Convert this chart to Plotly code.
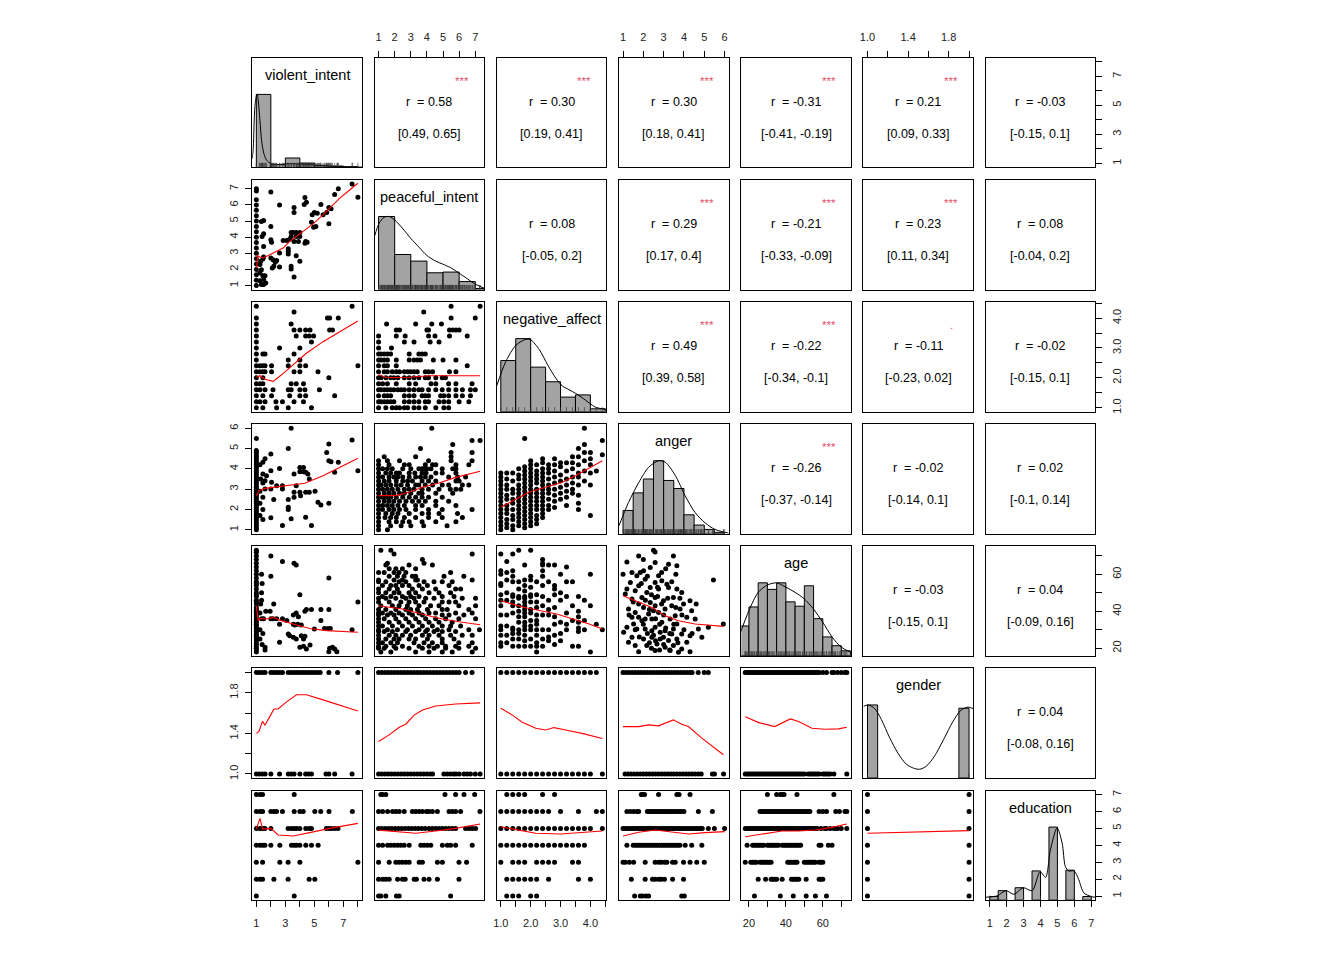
import plotly.graph_objects as go

FONT = "Liberation Sans, Arial, Helvetica, sans-serif"

variables = ["violent_intent", "peaceful_intent", "negative_affect", "anger", "age", "gender", "education"]
var_min = [1, 1, 1, 1, 18, 1, 1]
var_max = [8, 7.3, 4.4, 6, 73, 2, 7]

tick_vals = [
    [1, 2, 3, 4, 5, 6, 7, 8],
    [1, 2, 3, 4, 5, 6, 7],
    [1.0, 1.5, 2.0, 2.5, 3.0, 3.5, 4.0, 4.5],
    [1, 2, 3, 4, 5, 6],
    [20, 30, 40, 50, 60, 70],
    [1.0, 1.2, 1.4, 1.6, 1.8, 2.0],
    [1, 2, 3, 4, 5, 6, 7],
]
tick_text = [
    ["1", "", "3", "", "5", "", "7", ""],
    ["1", "2", "3", "4", "5", "6", "7"],
    ["1.0", "", "2.0", "", "3.0", "", "4.0", ""],
    ["1", "2", "3", "4", "5", "6"],
    ["20", "", "40", "", "60", ""],
    ["1.0", "", "1.4", "", "1.8", ""],
    ["1", "2", "3", "4", "5", "6", "7"],
]

# ---------------- upper panels: correlations ----------------
upper_r = {(1, 2): "0.58", (1, 3): "0.30", (1, 4): "0.30", (1, 5): "-0.31", (1, 6): "0.21", (1, 7): "-0.03",
           (2, 3): "0.08", (2, 4): "0.29", (2, 5): "-0.21", (2, 6): "0.23", (2, 7): "0.08",
           (3, 4): "0.49", (3, 5): "-0.22", (3, 6): "-0.11", (3, 7): "-0.02",
           (4, 5): "-0.26", (4, 6): "-0.02", (4, 7): "0.02",
           (5, 6): "-0.03", (5, 7): "0.04",
           (6, 7): "0.04"}
upper_ci = {(1, 2): "[0.49, 0.65]", (1, 3): "[0.19, 0.41]", (1, 4): "[0.18, 0.41]", (1, 5): "[-0.41, -0.19]",
            (1, 6): "[0.09, 0.33]", (1, 7): "[-0.15, 0.1]",
            (2, 3): "[-0.05, 0.2]", (2, 4): "[0.17, 0.4]", (2, 5): "[-0.33, -0.09]", (2, 6): "[0.11, 0.34]",
            (2, 7): "[-0.04, 0.2]",
            (3, 4): "[0.39, 0.58]", (3, 5): "[-0.34, -0.1]", (3, 6): "[-0.23, 0.02]", (3, 7): "[-0.15, 0.1]",
            (4, 5): "[-0.37, -0.14]", (4, 6): "[-0.14, 0.1]", (4, 7): "[-0.1, 0.14]",
            (5, 6): "[-0.15, 0.1]", (5, 7): "[-0.09, 0.16]",
            (6, 7): "[-0.08, 0.16]"}
upper_stars = {(1, 2): "***", (1, 3): "***", (1, 4): "***", (1, 5): "***", (1, 6): "***",
               (2, 4): "***", (2, 5): "***", (2, 6): "***",
               (3, 4): "***", (3, 5): "***", (3, 6): ".",
               (4, 5): "***"}

# ---------------- diagonal: histograms (normalised to max 1) and densities ----------------
hist_breaks = [
    [1, 2, 3, 4, 5, 6, 7, 8],
    [1, 2, 3, 4, 5, 6, 7, 8],
    [1.0, 1.5, 2.0, 2.5, 3.0, 3.5, 4.0, 4.5],
    [1.0, 1.5, 2.0, 2.5, 3.0, 3.5, 4.0, 4.5, 5.0, 5.5, 6.0],
    [15, 20, 25, 30, 35, 40, 45, 50, 55, 60, 65, 70, 75],
    [1.0, 1.1, 1.2, 1.3, 1.4, 1.5, 1.6, 1.7, 1.8, 1.9, 2.0],
    [1.0, 1.5, 2.0, 2.5, 3.0, 3.5, 4.0, 4.5, 5.0, 5.5, 6.0, 6.5, 7.0],
]
hist_heights = [
    [1.0, 0.04, 0.13, 0.06, 0.03, 0.02, 0.01],
    [1.0, 0.48, 0.39, 0.23, 0.24, 0.11, 0.015],
    [0.70, 1.0, 0.61, 0.41, 0.20, 0.23, 0.04],
    [0.32, 0.56, 0.75, 1.0, 0.73, 0.62, 0.26, 0.12, 0.06, 0.02],
    [0.41, 0.67, 1.0, 0.91, 1.0, 0.74, 0.68, 0.96, 0.51, 0.26, 0.14, 0.07],
    [1.0, 0, 0, 0, 0, 0, 0, 0, 0, 0.955],
    [0.05, 0.13, 0, 0.17, 0, 0.40, 0, 1.0, 0, 0.41, 0, 0.05],
]
dens_x = [
    [0.72, 0.79, 0.9, 1.02, 1.06, 1.13, 1.25, 1.36, 1.52, 1.71, 2.05, 2.62, 3.0, 3.54, 4.2, 4.68, 5.83, 6.97, 8.28],
    [0.75, 1.04, 1.35, 1.66, 2.01, 2.48, 3.0, 3.51, 3.98, 4.54, 4.97, 5.47, 5.96, 6.5, 6.95, 7.55],
    [0.86, 1.17, 1.51, 1.84, 2.01, 2.29, 2.57, 2.84, 3.07, 3.29, 3.51, 3.73, 3.96, 4.18, 4.54],
    [0.8, 1.27, 1.77, 2.26, 2.75, 3.08, 3.57, 4.06, 4.55, 5.04, 5.53, 6.2],
    [14.8, 20, 25, 30, 35, 40, 45, 50, 55, 60, 65, 70, 75.2],
    [0.96, 1.006, 1.071, 1.137, 1.219, 1.30, 1.382, 1.464, 1.513, 1.578, 1.66, 1.758, 1.84, 1.922, 1.994, 2.04],
    [0.76, 1.45, 1.96, 2.43, 2.98, 3.51, 3.98, 4.30, 4.59, 4.98, 5.28, 5.47, 5.67, 5.99, 6.26, 6.56, 6.99, 7.24],
]
dens_y = [
    [0.12, 0.28, 0.83, 0.99, 1.0, 0.92, 0.64, 0.37, 0.19, 0.10, 0.05, 0.04, 0.05, 0.05, 0.045, 0.04, 0.02, 0.01, 0.005],
    [0.73, 0.91, 0.99, 1.0, 0.95, 0.84, 0.70, 0.58, 0.47, 0.39, 0.35, 0.30, 0.23, 0.15, 0.08, 0.02],
    [0.35, 0.69, 0.91, 0.99, 0.98, 0.85, 0.64, 0.46, 0.35, 0.30, 0.25, 0.19, 0.12, 0.06, 0.03],
    [0.11, 0.43, 0.70, 0.91, 1.0, 0.98, 0.80, 0.52, 0.29, 0.15, 0.06, 0.01],
    [0.28, 0.62, 0.87, 0.97, 1.0, 0.94, 0.87, 0.78, 0.64, 0.46, 0.26, 0.12, 0.05],
    [0.98, 1.0, 0.95, 0.80, 0.55, 0.34, 0.19, 0.13, 0.12, 0.16, 0.30, 0.55, 0.77, 0.93, 0.97, 0.95],
    [0.04, 0.06, 0.13, 0.08, 0.17, 0.13, 0.39, 0.31, 0.69, 0.99, 0.78, 0.46, 0.40, 0.40, 0.28, 0.10, 0.05, 0.04],
]

# ---------------- lower panels: scatter points (x = column variable, y = row variable) ----------------
pts_2_1 = [(1, 1.0), (1, 1.33), (1, 1.67), (1, 2.0), (1, 2.33), (1, 2.67), (1, 3.0), (1, 3.33), (1, 3.67), (1, 4.0),
           (1, 4.33), (1, 4.67), (1, 5.0), (1, 5.33), (1, 5.67), (1, 6.0), (1, 6.33), (1, 6.87), (1, 7.0),
           (2, 6.8), (2.6, 6.0), (3.6, 5.85), (3.6, 5.53), (4.35, 6.46), (4.45, 6.17), (4.3, 6.03), (5.45, 6.03),
           (6.4, 6.65), (6.65, 7.0), (7.6, 7.3), (8, 6.48), (6.15, 5.76), (6, 5.84), (5.85, 5.53), (5.6, 5.39),
           (5.2, 5.49), (5, 5.53), (4.85, 5.39), (4.8, 4.93), (5.1, 4.67), (4.95, 4.62), (6, 4.83), (1.5, 5.04),
           (1.35, 4.97), (2, 4.67), (2, 3.84), (2.05, 3.68), (1.5, 4.21), (1.4, 4.05), (1.5, 3.43), (3.4, 4.29),
           (3.55, 4.29), (3.75, 4.29), (4, 4.29), (3.4, 4.05), (3.75, 4.05), (4, 4.05), (4.4, 3.74), (4.35, 3.63),
           (4.5, 3.68), (3.3, 3.88), (3.1, 3.8), (2.85, 3.8), (3.6, 3.74), (3.9, 3.74), (3.2, 3.28), (3.2, 3.12),
           (3.2, 2.95), (2.6, 3.02), (3.75, 2.85), (4, 2.5), (2, 2.71), (2.15, 2.6), (2.4, 2.56), (2.3, 2.44),
           (2.1, 2.09), (2.2, 2.19), (2.6, 2.15), (3.4, 2.19), (3.4, 2.03), (3.6, 1.53), (1.45, 2.65), (1.5, 2.77),
           (1.35, 1.98), (1.25, 1.78), (1.45, 1.61), (1.5, 1.37), (1.35, 1.06), (1.5, 1.06), (1.65, 1.16),
           (1.6, 1.61), (1.25, 1.3), (1.25, 2.3), (1.3, 2.5)]

lev_3_1 = {4.4: [1.0, 7.6], 4.2: [3.6], 4.0: [1.0, 5.9, 6.05, 6.65], 3.8: [1.0, 3.4],
           3.6: [1.0, 3.6, 4.0, 4.4, 4.7, 6.05, 6.25], 3.4: [1.0, 3.75, 4.4, 4.65, 4.95], 3.2: [1.0, 4.8],
           3.0: [1.0, 2.6, 4.0], 2.8: [1.0, 1.45, 1.6, 3.6], 2.6: [1.0, 3.2, 4.0],
           2.4: [1.0, 1.25, 1.45, 1.6, 2.05, 3.2, 4.0, 4.4, 8.0], 2.2: [1.0, 1.25, 1.45, 1.6, 2.05, 3.6, 4.0, 5.25],
           2.0: [1.0, 1.45, 6.0], 1.8: [1.0, 1.25, 1.45, 3.4, 3.75, 4.25],
           1.6: [1.0, 1.25, 1.6, 2.15, 3.2, 3.4, 4.0, 4.35, 5.35], 1.4: [1.0, 1.45, 2.05, 3.3, 4.0, 4.4, 6.4],
           1.2: [1.0, 1.25, 1.6, 2.35, 2.8, 3.6, 4.25], 1.0: [1.0, 1.45, 2.4, 3.2, 4.8]}

lev_3_2 = {4.4: [5.5, 7.3], 4.2: [3.8], 4.0: [5.5, 7.0], 3.8: [1.5, 3.3, 4.3, 4.9],
           3.6: [2.1, 2.3, 4.0, 4.1, 5.4, 5.6, 5.8, 6.0], 3.4: [1.0, 2.1, 2.65, 4.1, 4.5, 5.4, 6.5],
           3.2: [1.0, 2.6, 3.2, 4.2, 4.75], 3.0: [1.0, 1.8],
           2.8: [1.0, 1.15, 1.35, 1.55, 1.75, 2.9, 3.5, 3.7, 3.9],
           2.6: [1.0, 1.15, 1.35, 1.55, 2.1, 2.9, 3.2, 3.4, 3.6, 4.4, 5.0, 5.8],
           2.4: [1.0, 1.35, 1.55, 2.1, 6.5],
           2.2: [1.0, 1.35, 1.55, 1.85, 2.1, 2.3, 2.6, 2.8, 3.0, 3.2, 3.4, 3.9, 4.1, 4.35, 5.4, 5.8],
           2.0: [1.0, 1.15, 1.45, 1.75, 1.95, 2.2, 2.6, 2.9, 3.2, 3.5, 3.9, 4.1, 4.55, 4.95, 5.15],
           1.8: [1.0, 1.25, 1.55, 2.1, 2.9, 3.3, 4.25, 4.55, 5.35, 5.8, 6.8],
           1.6: [1.0, 1.15, 1.35, 1.55, 1.75, 1.95, 2.2, 2.4, 2.6, 2.9, 3.2, 3.5, 3.7, 4.1, 4.55, 4.95, 5.35,
                 5.8, 6.2, 6.7, 7.0],
           1.4: [1.0, 1.35, 1.55, 1.75, 2.6, 2.9, 3.2, 3.7, 3.9, 4.1, 4.85, 5.05, 5.35, 5.8, 6.2, 6.7],
           1.2: [1.0, 1.15, 1.35, 1.55, 1.75, 1.95, 2.6, 2.9, 3.2, 3.5, 3.9, 4.1, 4.75, 5.05, 5.35, 6.0, 6.6],
           1.0: [1.0, 1.45, 1.85, 2.1, 2.3, 2.6, 2.8, 3.2, 3.5, 3.9, 4.55, 5.05, 5.35]}

pts_4_1 = [(1, 1.0), (1, 1.1), (1, 1.2), (1, 1.3), (1, 1.4), (1, 1.5), (1, 1.6), (1, 1.7), (1, 1.8), (1, 1.9),
           (1, 2.0), (1, 2.1), (1, 2.2), (1, 2.3), (1, 2.4), (1, 2.5), (1, 2.6), (1, 2.7), (1, 2.8), (1, 2.9),
           (1, 3.0), (1, 3.1), (1, 3.2), (1, 3.3), (1, 3.4), (1, 3.5), (1, 3.6), (1, 3.7), (1, 3.8), (1, 3.9),
           (1, 4.0), (1, 4.1), (1, 4.2), (1, 4.3), (1, 4.4), (1, 4.5), (1, 4.6), (1, 4.7), (1, 4.8), (1, 4.9),
           (1, 5.5),
           (3.4, 6.0), (3.2, 5.0), (2.0, 4.73), (2.6, 4.02), (2.0, 3.91), (2.05, 3.34), (2.0, 3.01), (2.2, 2.49),
           (2.0, 1.59), (2.8, 1.21), (3.2, 2.49), (3.2, 2.11), (3.2, 2.0), (3.4, 1.54), (3.6, 3.75), (4.0, 4.07),
           (4.0, 3.86), (4.25, 4.07), (4.25, 3.86), (3.75, 3.17), (3.6, 2.85), (4.0, 2.85), (4.05, 2.68),
           (3.6, 2.6), (4.4, 3.83), (4.55, 3.75), (4.65, 3.5), (4.4, 2.85), (4.65, 2.85), (4.4, 1.62), (4.8, 1.21),
           (5.05, 2.9), (5.25, 2.35), (5.45, 2.22), (6.0, 2.31), (5.85, 4.81), (6.0, 5.22), (6.0, 4.4),
           (6.15, 4.35), (6.65, 4.32), (6.4, 3.83), (7.6, 5.42), (8.0, 3.91), (2.8, 3.17), (2.8, 3.01),
           (2.4, 3.17), (1.7, 3.66), (1.6, 3.42), (1.6, 3.01), (1.45, 4.32), (1.45, 3.75), (1.25, 4.2),
           (1.45, 3.3), (1.25, 2.9), (1.45, 2.6), (1.25, 2.3), (1.45, 2.0), (1.25, 1.7), (1.45, 1.5), (1.6, 4.5),
           (1.3, 3.5)]

lev_4_2 = {6.0: [4.3], 5.4: [7.3, 6.8], 5.2: [5.6], 5.0: [3.6], 4.8: [6.8, 5.5], 4.6: [1.35, 3.3, 5.5],
           4.4: [1.0, 1.55, 2.3, 4.1, 5.5, 6.8],
           4.2: [1.0, 1.65, 2.6, 2.9, 3.9, 4.35, 4.55, 5.8, 6.6],
           4.0: [1.0, 1.25, 1.55, 1.85, 2.5, 3.0, 3.5, 3.7, 3.8, 4.0, 4.25, 4.95, 5.6, 5.8],
           3.8: [1.0, 1.45, 1.75, 2.1, 2.3, 2.9, 3.25, 3.7, 3.95, 4.55, 4.95, 5.8],
           3.6: [1.0, 1.25, 1.65, 1.95, 2.2, 2.5, 2.9, 3.3, 3.6, 3.9, 4.25, 5.35, 5.9, 6.4],
           3.4: [1.0, 1.35, 1.65, 2.1, 2.5, 2.8, 3.1, 3.7, 4.1, 4.55, 5.8, 6.0],
           3.2: [1.0, 1.15, 1.45, 1.75, 2.1, 2.4, 2.8, 3.3, 3.5, 3.9, 4.35, 4.95, 5.35, 6.2, 6.6],
           3.0: [1.0, 1.25, 1.55, 1.85, 2.2, 2.6, 2.9, 3.2, 3.7, 4.1, 4.75, 5.45, 5.8, 6.1],
           2.8: [1.0, 1.35, 1.65, 1.95, 2.3, 2.6, 3.0, 3.5, 3.7, 4.55, 5.6],
           2.6: [1.0, 1.25, 1.5, 1.75, 2.1, 2.5, 2.9, 3.3, 3.7, 4.1, 4.95],
           2.4: [1.0, 1.35, 1.65, 1.95, 2.3, 2.7, 3.1, 3.5, 3.9, 4.55, 5.35],
           2.2: [1.0, 1.25, 1.55, 1.85, 2.2, 2.6, 3.3, 3.7, 4.55, 5.8],
           2.0: [1.0, 1.25, 1.65, 1.95, 2.3, 2.7, 3.3, 4.1, 4.95, 6.8],
           1.8: [1.0, 1.45, 1.85, 2.2, 2.9, 3.7, 4.1, 4.75, 5.9],
           1.6: [1.0, 1.4, 1.75, 2.1, 2.6, 3.3, 4.1, 4.95, 6.2],
           1.4: [1.0, 1.65, 2.1, 2.5, 2.9, 3.7, 4.55, 5.8],
           1.2: [1.0, 1.75, 2.4, 3.0, 3.8, 5.25],
           1.0: [1.0, 1.55]}

levx_4_3 = {1.0: [3.8, 3.6, 3.4, 3.2, 3.0, 2.8, 2.6, 2.4, 2.2, 2.0, 1.8, 1.6, 1.4, 1.2, 1.0],
            1.2: [3.8, 3.5, 3.2, 3.0, 2.7, 2.5, 2.2, 2.0, 1.8, 1.5, 1.3, 1.1],
            1.4: [3.8, 3.4, 3.0, 2.8, 2.5, 2.3, 2.0, 1.7, 1.5, 1.2, 1.0],
            1.6: [4.0, 3.7, 3.5, 3.2, 3.0, 2.8, 2.6, 2.4, 2.2, 2.0, 1.8, 1.6, 1.4, 1.2],
            1.8: [5.5, 4.1, 3.9, 3.7, 3.5, 3.3, 3.1, 2.9, 2.7, 2.5, 2.3, 2.1, 1.9, 1.7, 1.5, 1.3, 1.1],
            2.0: [4.4, 4.2, 4.0, 3.8, 3.6, 3.4, 3.2, 3.0, 2.8, 2.6, 2.4, 2.2, 2.0, 1.8, 1.6, 1.4, 1.2],
            2.2: [4.2, 3.9, 3.7, 3.5, 3.3, 3.0, 2.8, 2.6, 2.4, 2.2, 2.0, 1.7, 1.5, 1.3],
            2.4: [4.5, 4.3, 4.0, 3.8, 3.6, 3.4, 3.2, 3.0, 2.8, 2.6, 2.4, 2.2, 2.0, 1.8, 1.6],
            2.6: [4.2, 4.0, 3.8, 3.5, 3.2, 3.0, 2.8, 2.5, 2.2, 2.0],
            2.8: [4.5, 4.2, 3.9, 3.6, 3.3, 3.0, 2.7, 2.4, 2.1],
            3.0: [4.3, 4.1, 3.7, 3.4, 3.1, 2.8, 2.5],
            3.2: [4.3, 3.9, 3.5, 3.2, 2.9, 2.6, 2.2],
            3.4: [4.6, 4.3, 4.0, 3.6, 3.3, 3.0, 2.8],
            3.6: [5.0, 4.6, 4.2, 3.8, 3.6, 3.2, 2.7, 2.3, 2.0],
            3.8: [6.0, 5.2, 4.8, 4.4, 3.9, 3.4],
            4.0: [4.8, 4.5, 4.2, 3.8, 3.2, 1.7],
            4.2: [3.9],
            4.4: [5.4, 4.7]}

levx_5_1 = {1.0: [18, 19, 20, 21, 22, 23, 24, 25, 26, 27, 28, 29, 30, 31, 32, 33, 34, 35, 36, 37, 38, 39, 40, 41,
                  42, 44, 45, 46, 48, 49, 50, 52, 54, 55, 56, 58, 60, 62, 64, 66, 68, 70, 72, 73]}
pts_5_1 = [(1.36, 60), (1.36, 50), (1.36, 46), (1.25, 39), (1.36, 36), (1.5, 36), (1.25, 30), (1.25, 25),
           (1.4, 22), (1.6, 20.5), (1.6, 19), (2.0, 70), (2.8, 67), (3.6, 66), (3.75, 65), (2.0, 59), (6.0, 58),
           (4.0, 49), (2.2, 44), (1.65, 40), (1.95, 40), (2.0, 36), (2.15, 36), (2.4, 36), (2.8, 36), (3.1, 35),
           (3.55, 38), (3.75, 39), (3.9, 37), (4.35, 40), (4.45, 41), (4.8, 41), (5.45, 41), (6.0, 41), (8.0, 45),
           (3.85, 33), (2.6, 33), (3.55, 33), (3.65, 32.5), (4.1, 32.5), (5.0, 30.4), (5.7, 30.7), (5.95, 30.7),
           (6.1, 30.7), (7.6, 30), (3.2, 27.7), (3.3, 26.8), (3.55, 25.9), (3.75, 25), (4.1, 26.8), (4.35, 26.4),
           (4.25, 25), (2.6, 23.2), (4.0, 20.5), (4.25, 21), (4.45, 19.6), (4.7, 21.7), (6.05, 20), (6.25, 20.5),
           (6.4, 19.6), (6.0, 18.1), (6.55, 18.1), (5.45, 35), (1.4, 55), (1.3, 44), (1.45, 28)]

lev_5_2 = {73: [1.14, 1.76], 71: [1.96, 6.81], 68: [3.72], 66: [1.55, 3.82], 65: [1.45, 2.89, 4.34],
           63: [1.66, 2.07, 2.48, 3.3], 61: [1.0, 1.35, 1.96, 2.27, 2.69, 5.47],
           59: [1.66, 2.17, 2.58, 3.1, 3.3, 5.06, 6.29], 57: [1.0, 1.96, 2.48, 3.3, 3.41, 6.81],
           56: [1.0, 1.45, 2.27, 2.69, 3.82, 4.44, 4.95, 5.57], 54: [1.24, 1.76, 2.07, 2.48, 2.89, 3.51, 4.03, 5.37],
           52: [1.0, 1.66, 2.17, 3.1, 3.72, 4.54, 5.78, 6.09], 50: [1.0, 1.45, 1.96, 2.27, 2.89, 3.3, 4.13, 4.75, 5.47],
           48: [1.24, 1.76, 2.48, 2.99, 3.51, 4.95, 5.68], 47: [1.0, 1.45, 2.07, 2.69, 3.2, 3.92, 4.44, 6.19, 7.02],
           45: [1.0, 1.66, 2.38, 2.89, 3.3, 3.82, 4.95, 5.37, 5.78],
           43: [1.14, 1.86, 2.27, 2.79, 3.51, 4.23, 4.75, 5.98, 7.02],
           41: [1.0, 1.45, 2.07, 2.69, 2.99, 3.41, 4.03, 4.95, 5.26, 6.6],
           39: [1.0, 1.24, 1.76, 2.27, 2.89, 3.51, 4.13, 4.54, 5.78, 6.81],
           38: [1.0, 1.55, 1.96, 2.48, 3.1, 3.72, 4.95, 5.37, 6.29],
           36: [1.0, 1.35, 2.07, 2.69, 3.3, 3.92, 4.54, 5.16, 5.98, 7.02],
           34: [1.0, 1.66, 2.27, 2.89, 3.51, 4.13, 4.75, 5.57],
           32: [1.0, 1.24, 1.86, 2.48, 3.1, 3.72, 4.34, 4.95, 5.47, 6.09],
           30: [1.0, 1.55, 2.17, 2.79, 3.51, 4.03, 4.65, 5.37, 6.6, 7.26],
           29: [1.0, 1.35, 1.86, 2.69, 3.3, 3.92, 4.44, 4.95, 5.78],
           27: [1.0, 1.66, 2.07, 2.48, 2.99, 3.72, 4.13, 4.75, 5.47, 6.19, 6.81],
           25: [1.0, 1.45, 1.96, 2.27, 2.89, 3.3, 4.03, 4.95, 5.68],
           23: [1.0, 1.24, 1.76, 2.17, 3.2, 3.82, 4.34, 4.95, 5.98, 6.81],
           21: [1.0, 1.45, 1.96, 2.48, 3.51, 4.13, 4.65, 5.16, 5.78, 6.6],
           20: [1.0, 1.35, 2.07, 2.89, 3.72, 4.44, 5.16, 5.98, 7.02],
           18: [1.14, 1.76, 3.3, 4.13, 4.95, 5.57, 6.81]}

levx_5_3 = {1.0: [71, 62, 60, 55, 54, 49, 46, 43, 38, 32, 30, 27, 23, 21],
            1.2: [67, 61, 57, 50, 46, 38, 32, 27, 23],
            1.4: [71, 62, 59, 56, 49, 48, 45, 43, 39, 31, 30, 28, 25, 21],
            1.6: [73, 56, 52, 48, 47, 43, 40, 37, 34, 30, 28, 25, 21],
            1.8: [65, 57, 54, 51, 48, 47, 45, 43, 41, 39, 37, 34, 32, 30, 27, 24, 21],
            2.0: [73, 59, 57, 53, 49, 48, 45, 41, 39, 35, 32, 30, 25, 21],
            2.2: [56, 49, 45, 42, 38, 35, 33, 30, 27, 23, 21, 18],
            2.4: [68, 66, 65, 62, 59, 54, 48, 43, 38, 30, 25, 21],
            2.6: [65, 56, 46, 41, 38, 30, 26, 24],
            2.8: [65, 54, 52, 49, 42, 37, 33, 27, 22],
            3.0: [60, 50, 46, 34, 28, 24],
            3.2: [64, 56, 48, 39, 33, 30],
            3.4: [56, 43, 35, 21],
            3.6: [48, 40, 37, 34, 31, 29, 21],
            3.8: [46, 35, 30],
            4.0: [60, 43, 18],
            4.2: [33],
            4.4: [30]}

pts_5_4 = [(1.0, 60.1), (1.03, 28.6), (1.11, 49.3), (1.19, 66.7), (1.19, 52), (1.19, 31.3), (1.27, 41.2),
           (1.27, 23.2), (1.36, 55.6), (1.44, 61), (1.44, 46.6), (1.44, 36.7), (1.44, 25.9), (1.52, 33.1),
           (1.6, 51.1), (1.6, 39.4), (1.6, 21.4), (1.68, 59.2), (1.68, 30.4), (1.77, 70), (1.77, 53.8),
           (1.77, 43.9), (1.77, 36.7), (1.77, 18.1), (1.85, 61), (1.93, 47.5), (1.93, 34.9), (2.01, 61.9),
           (2.01, 42.1), (2.01, 25), (2.09, 57.4), (2.09, 35.8), (2.09, 30.4), (2.17, 50.2), (2.17, 21.4),
           (2.26, 38.5), (2.34, 63.7), (2.34, 52.9), (2.34, 44.8), (2.42, 35.8), (2.42, 29.5), (2.42, 25.9),
           (2.5, 73), (2.5, 40.3), (2.58, 72.1), (2.58, 66.4), (2.58, 55.6), (2.58, 47.5), (2.58, 43),
           (2.58, 31.3), (2.58, 18.7), (2.67, 22.3), (2.75, 59.2), (2.75, 52), (2.75, 39.4), (2.83, 28.6),
           (2.83, 25), (2.91, 56.5), (2.91, 34), (2.99, 45.7), (2.99, 25.9), (3.07, 41.2), (3.07, 29.5),
           (3.07, 20.5), (3.16, 54.7), (3.24, 65.5), (3.24, 52.9), (3.24, 24.1), (3.32, 35.8), (3.32, 18.7),
           (3.4, 43), (3.4, 27.7), (3.48, 70), (3.48, 47.5), (3.48, 30.4), (3.48, 21.4), (3.57, 37.6),
           (3.65, 64.6), (3.65, 52), (3.65, 33.1), (3.65, 25), (3.73, 17.8), (3.81, 41.2), (3.89, 50.2),
           (3.89, 27.7), (3.89, 19.6), (3.98, 43.9), (4.14, 36.7), (4.14, 23.2), (4.3, 45.7), (4.3, 26.8),
           (4.3, 18.1), (4.38, 40.3), (4.55, 35.8), (4.71, 30.4), (4.88, 25.9), (5.2, 31.3), (5.45, 57),
           (5.94, 33.1),
           (2.7, 48), (2.9, 44), (3.0, 38), (2.6, 36), (2.8, 33), (3.1, 31), (3.3, 28), (2.5, 27), (2.2, 28),
           (2.0, 33), (2.3, 41), (2.1, 46), (3.6, 42), (3.9, 38), (3.2, 47), (3.4, 56), (2.9, 61), (2.2, 59),
           (1.9, 55), (3.7, 23), (3.0, 22), (2.4, 20), (2.6, 24), (3.5, 33), (4.0, 30), (3.8, 47), (2.7, 53),
           (3.1, 63), (2.0, 68), (1.5, 45), (1.3, 38), (4.4, 28), (4.6, 44), (3.3, 19), (2.8, 19), (2.3, 23),
           (1.8, 26), (1.6, 30), (3.6, 60), (2.4, 49)]

lev_6_1 = {2: [1.0, 1.2, 1.4, 1.6, 2.0, 2.2, 2.4, 2.6, 2.8, 3.2, 3.4, 3.6, 3.8, 4.0, 4.2, 4.4, 4.6, 4.8, 5.0, 5.2,
               5.4, 6.0, 6.6, 8.0],
           1: [1.0, 1.2, 1.4, 1.6, 2.0, 2.6, 3.2, 3.4, 3.6, 4.0, 4.4, 4.6, 4.8, 5.8, 6.0, 6.4, 7.6]}
lev_6_2 = {2: [1.0, 1.2, 1.4, 1.6, 1.8, 2.0, 2.2, 2.4, 2.6, 2.8, 3.0, 3.2, 3.4, 3.6, 3.8, 4.0, 4.2, 4.4, 4.6,
               4.8, 5.0, 5.2, 5.4, 5.6, 5.8, 6.0, 6.4, 6.8],
           1: [1.0, 1.2, 1.4, 1.6, 1.8, 2.0, 2.2, 2.4, 2.6, 2.8, 3.0, 3.2, 3.4, 3.6, 3.8, 4.0, 4.2, 4.35, 5.05,
               5.25, 5.45, 5.65, 5.8, 6.0, 6.3, 6.5, 6.7, 7.0, 7.3]}
lev_6_3 = {2: [1.0, 1.2, 1.4, 1.6, 1.8, 2.0, 2.2, 2.4, 2.6, 2.8, 3.0, 3.2, 3.4, 3.6, 3.8, 4.0, 4.2],
           1: [1.0, 1.2, 1.4, 1.6, 1.8, 2.0, 2.2, 2.4, 2.6, 2.8, 3.0, 3.2, 3.4, 3.6, 3.8, 4.0, 4.4]}
lev_6_4 = {2: [1.0, 1.15, 1.3, 1.45, 1.6, 1.75, 1.9, 2.05, 2.2, 2.35, 2.5, 2.65, 2.8, 2.95, 3.1, 3.25, 3.4,
               3.55, 3.7, 3.85, 4.0, 4.15, 4.3, 4.4, 4.7, 5.0, 5.2],
           1: [1.1, 1.25, 1.4, 1.55, 1.7, 1.85, 2.0, 2.15, 2.3, 2.45, 2.6, 2.75, 2.9, 3.05, 3.2, 3.35, 3.5, 3.65,
               3.8, 3.95, 4.1, 4.25, 4.4, 4.55, 4.7, 4.85, 5.4, 5.5, 5.95]}
lev_6_5 = {2: [18, 19, 20, 21, 22, 23, 24, 25, 26, 27, 28, 29, 30, 31, 32, 33, 34, 35, 36, 37, 38, 39, 40, 41, 42,
               43, 44, 45, 46, 47, 48, 49, 50, 51, 52, 53, 54, 55, 56, 57, 58, 60, 62, 65, 66, 68, 70, 72, 73],
           1: [18, 19, 20, 21, 22, 23, 24, 25, 26, 27, 28, 29, 30, 31, 32, 33, 34, 35, 36, 37, 38, 39, 40, 41, 42,
               43, 44, 45, 46, 47, 48, 49, 50, 52, 53, 54, 55, 56, 57, 58, 60, 61, 62, 63, 64, 66, 73]}

lev_7_1 = {7: [1.0, 1.25, 1.43, 3.61],
           6: [1.0, 1.25, 1.43, 2.0, 2.21, 2.39, 2.8, 3.61, 4.0, 4.23, 5.03, 5.44, 6.01, 7.62],
           5: [1.0, 1.25, 1.43, 1.59, 2.0, 3.19, 3.42, 3.61, 3.77, 4.0, 4.41, 4.64, 4.8, 5.83, 6.01, 6.17, 6.4, 6.63],
           4: [1.0, 1.25, 1.43, 1.59, 2.0, 2.62, 3.42, 3.61, 3.77, 4.0, 4.41, 4.8, 5.26],
           3: [1.0, 1.43, 2.62, 3.19, 4.0, 8.0],
           2: [1.0, 1.25, 1.43, 2.21, 3.19, 4.64, 5.03],
           1: [1.0, 3.61]}
lev_7_2 = {7: [1.14, 1.25, 1.45, 5.12, 5.78, 6.3, 6.96],
           6: [1.0, 1.25, 1.56, 1.87, 2.07, 2.28, 2.59, 3.1, 3.31, 3.52, 3.72, 3.97, 4.13, 4.34, 4.65, 5.37, 5.58,
               5.78, 6.09, 7.29],
           5: [1.0, 1.21, 1.41, 1.62, 1.82, 2.03, 2.24, 2.44, 2.65, 2.86, 3.06, 3.27, 3.47, 3.68, 3.89, 4.13, 4.34,
               4.55, 4.75, 4.96, 5.16, 5.37, 5.58, 5.78, 6.4, 6.61, 6.81, 7.02],
           4: [1.0, 1.25, 1.56, 1.76, 1.97, 2.18, 2.38, 2.59, 2.9, 3.62, 3.82, 4.03, 4.24, 4.96, 5.27, 5.47, 5.78,
               6.81],
           3: [1.0, 1.66, 2.07, 2.28, 2.48, 2.69, 2.9, 3.52, 3.72, 4.65, 4.96, 5.99, 6.46],
           2: [1.0, 1.25, 1.45, 1.66, 2.18, 2.48, 2.65, 3.21, 3.35, 3.82, 4.13, 4.65, 5.99],
           1: [1.0, 1.14, 1.45, 2.11, 2.28, 5.47]}
lev_7_3 = {7: [1.2, 1.4, 1.6, 1.8, 2.4, 2.8],
           6: [1.0, 1.2, 1.4, 1.6, 1.8, 2.0, 2.2, 2.4, 2.6, 3.0, 3.6, 4.2, 4.4],
           5: [1.0, 1.2, 1.4, 1.6, 1.8, 2.0, 2.2, 2.4, 2.6, 2.8, 3.0, 3.2, 3.4, 3.6, 3.8, 4.0, 4.4],
           4: [1.0, 1.2, 1.4, 1.6, 1.8, 2.0, 2.2, 2.4, 2.6, 2.8, 3.0, 3.2, 3.4, 3.6, 3.8],
           3: [1.0, 1.4, 1.6, 1.8, 2.2, 2.4, 2.6, 2.8, 3.4, 3.6],
           2: [1.2, 1.4, 1.6, 1.8, 2.0, 2.2, 2.6, 3.6, 4.0],
           1: [1.2, 1.4, 1.6, 2.0, 2.2]}
lev_7_4 = {7: [1.9, 1.96, 2.06, 2.75, 3.65, 3.76, 4.3],
           6: [1.19, 1.36, 1.52, 1.68, 1.77, 2.2, 2.3, 2.4, 2.5, 2.6, 2.7, 2.8, 2.9, 3.0, 3.1, 3.2, 3.3, 3.4, 3.5,
               3.6, 3.7, 3.8, 3.9, 4.0, 4.71, 5.4],
           5: [1.0, 1.1, 1.2, 1.3, 1.4, 1.5, 1.6, 1.7, 1.8, 1.9, 2.0, 2.1, 2.2, 2.3, 2.4, 2.5, 2.6, 2.7, 2.8, 2.9,
               3.0, 3.1, 3.2, 3.3, 3.4, 3.5, 3.6, 3.7, 3.8, 3.9, 4.0, 4.1, 4.2, 4.3, 4.4, 4.5, 4.6, 4.7, 4.8, 4.9,
               5.2, 5.5, 6.0],
           4: [1.19, 1.5, 1.6, 1.7, 1.8, 1.9, 2.0, 2.1, 2.2, 2.3, 2.4, 2.5, 2.6, 2.7, 2.8, 2.9, 3.0, 3.1, 3.2, 3.3,
               3.4, 3.5, 3.6, 3.7, 3.8, 4.06, 4.38, 4.88],
           3: [1.0, 1.11, 1.31, 1.52, 2.09, 2.58, 2.75, 2.88, 3.04, 3.16, 3.44, 3.57, 3.98, 4.3, 4.63, 5.0],
           2: [1.41, 2.09, 2.45, 2.58, 2.75, 2.88, 3.04, 3.44, 3.98],
           1: [1.57, 1.85, 1.96, 2.13, 2.26, 3.89, 4.02]}
lev_7_5 = {7: [30, 35, 37, 38, 39, 46, 66],
           6: [26, 27, 28, 29, 30, 31, 32, 33, 34, 35, 36, 37, 38, 39, 40, 41, 42, 43, 44, 45, 46, 47, 48, 49, 50,
               51, 52, 53, 58, 60, 62, 67, 69, 72, 73],
           5: [18, 19, 20, 21, 22, 23, 24, 25, 26, 27, 28, 29, 30, 31, 32, 33, 34, 35, 36, 37, 38, 39, 40, 41, 42,
               43, 44, 45, 46, 47, 48, 49, 50, 51, 52, 53, 54, 55, 56, 57, 59, 61, 62, 64, 66, 67, 68, 70, 73],
           4: [19, 22, 23, 24, 25, 26, 27, 28, 30, 31, 32, 33, 34, 35, 36, 38, 39, 40, 41, 42, 43, 44, 45, 46, 47,
               48, 58, 59, 63, 65],
           3: [18, 21, 22, 23, 24, 26, 27, 28, 29, 30, 31, 32, 41, 42, 43, 44, 45, 46, 50, 51, 52, 53, 54, 55, 56,
               58, 59, 60],
           2: [25, 29, 32, 33, 34, 35, 38, 43, 44, 45, 46, 47, 51, 58, 59, 60],
           1: [23, 37, 44, 51, 56, 62]}
lev_7_6 = {7: [1, 2], 6: [1, 2], 5: [1, 2], 4: [1, 2], 3: [1, 2], 2: [1, 2], 1: [1, 2]}

loess = {
    (2, 1): ([1.02, 1.09, 1.25, 1.48, 1.93, 2.39, 2.85, 3.31, 3.77, 4.34, 4.91, 5.6, 6.06, 6.75, 7.43, 8.0],
             [2.09, 2.85, 2.77, 2.71, 2.91, 3.12, 3.33, 3.74, 4.05, 4.4, 4.83, 5.39, 5.8, 6.42, 6.93, 7.35]),
    (3, 1): ([1.0, 1.25, 1.59, 2.16, 2.74, 3.42, 4.45, 5.6, 6.75, 8.0],
             [2.02, 2.07, 1.95, 1.88, 2.1, 2.38, 2.82, 3.21, 3.54, 3.9]),
    (3, 2): ([1.0, 1.45, 2.07, 2.9, 4.13, 5.78, 7.3], [2.1, 2.02, 2.01, 2.02, 2.07, 2.08, 2.07]),
    (4, 1): ([1.0, 1.2, 1.59, 2.16, 3.31, 4.34, 5.6, 6.75, 8.0],
             [2.68, 2.93, 3.04, 3.09, 3.21, 3.29, 3.66, 4.07, 4.52]),
    (4, 2): ([1.0, 2.07, 2.9, 3.72, 4.75, 5.78, 7.3], [2.68, 2.68, 2.85, 3.09, 3.3, 3.58, 3.88]),
    (4, 3): ([1.0, 1.5, 1.94, 2.5, 3.06, 3.5, 3.94, 4.4], [2.11, 2.52, 2.85, 3.09, 3.34, 3.66, 4.04, 4.4]),
    (5, 1): ([1.0, 1.13, 1.25, 1.7, 2.16, 2.62, 3.54, 4.68, 5.83, 6.97, 8.0],
             [43, 34.9, 36.1, 35.8, 36.7, 35.2, 33.1, 30.7, 29.5, 28.9, 28.6]),
    (5, 2): ([1.0, 2.48, 3.92, 4.95, 6.0, 7.3], [43, 41.2, 38, 35.8, 34.3, 32.7]),
    (5, 3): ([1.0, 1.8, 2.87, 3.96, 4.4], [45.7, 42, 38.5, 33.1, 30.4]),
    (5, 4): ([1.0, 1.77, 2.42, 3.07, 3.73, 4.55, 5.94], [48.4, 44.8, 42.1, 37.6, 34.9, 33.1, 31.8]),
    (6, 1): ([1.0, 1.18, 1.43, 1.59, 1.93, 2.21, 2.5, 3.08, 3.77, 4.45, 5.6, 6.74, 8.0],
             [1.40, 1.42, 1.52, 1.48, 1.565, 1.64, 1.64, 1.71, 1.78, 1.78, 1.73, 1.68, 1.62]),
    (6, 2): ([1.0, 1.66, 2.28, 2.69, 3.21, 3.72, 4.55, 5.78, 7.3],
             [1.32, 1.385, 1.46, 1.49, 1.58, 1.63, 1.67, 1.69, 1.70]),
    (6, 3): ([1.0, 1.39, 1.72, 2.17, 2.5, 2.78, 3.17, 3.72, 4.4],
             [1.647, 1.58, 1.51, 1.45, 1.434, 1.457, 1.434, 1.40, 1.35]),
    (6, 4): ([1.0, 1.77, 2.26, 2.75, 3.48, 3.89, 4.22, 4.88, 5.94],
             [1.467, 1.467, 1.484, 1.474, 1.533, 1.49, 1.467, 1.353, 1.189]),
    (6, 5): ([18, 25.3, 34, 38, 42.4, 46.9, 54.1, 61.3, 68.5, 73],
             [1.565, 1.506, 1.467, 1.50, 1.542, 1.516, 1.451, 1.44, 1.444, 1.46]),
    (7, 1): ([1.0, 1.25, 1.43, 2.0, 2.5, 3.54, 4.68, 6.06, 8.0], [4.96, 5.59, 4.96, 5.0, 4.61, 4.55, 4.75, 5.0, 5.3]),
    (7, 2): ([1.0, 2.07, 3.31, 4.55, 5.78, 7.3], [4.9, 4.81, 4.71, 4.85, 5.0, 5.26]),
    (7, 3): ([1.0, 1.5, 2.17, 3.0, 3.72, 4.4], [5.1, 4.94, 4.71, 4.67, 4.77, 4.85]),
    (7, 4): ([1.0, 1.77, 2.58, 3.4, 4.22, 5.04, 6.0], [4.55, 4.77, 4.91, 4.77, 4.67, 4.75, 4.81]),
    (7, 5): ([18, 29, 37.9, 46.9, 56, 65, 73], [4.51, 4.71, 4.85, 4.85, 4.91, 5.06, 5.26]),
    (7, 6): ([1.0, 2.0], [4.71, 4.87]),
}


def from_y_levels(levels):
    return [(xv, yv) for yv, xs in levels.items() for xv in xs]


def from_x_levels(levels):
    return [(xv, yv) for xv, ys in levels.items() for yv in ys]


lower = {
    (2, 1): pts_2_1,
    (3, 1): from_y_levels(lev_3_1),
    (3, 2): from_y_levels(lev_3_2),
    (4, 1): pts_4_1,
    (4, 2): from_y_levels(lev_4_2),
    (4, 3): from_x_levels(levx_4_3),
    (5, 1): from_x_levels(levx_5_1) + pts_5_1,
    (5, 2): from_y_levels(lev_5_2),
    (5, 3): from_x_levels(levx_5_3),
    (5, 4): pts_5_4,
    (6, 1): from_y_levels(lev_6_1),
    (6, 2): from_y_levels(lev_6_2),
    (6, 3): from_y_levels(lev_6_3),
    (6, 4): from_y_levels(lev_6_4),
    (6, 5): from_y_levels(lev_6_5),
    (7, 1): from_y_levels(lev_7_1),
    (7, 2): from_y_levels(lev_7_2),
    (7, 3): from_y_levels(lev_7_3),
    (7, 4): from_y_levels(lev_7_4),
    (7, 5): from_y_levels(lev_7_5),
    (7, 6): from_y_levels(lev_7_6),
}

# ---------------- layout geometry ----------------
OFF = 8.0                      # page body margin of the browser
W, H = 1344 - 2 * int(OFF), 960 - 2 * int(OFF)
LEFT, CPITCH, PW = 249.0 - OFF, 122.6, 110.0
TOP, RPITCH, PH = 57.0 - OFF, 122.5, 110.0
NV = len(variables)


def prange(k):
    span = var_max[k] - var_min[k]
    return [var_min[k] - 0.04 * span, var_max[k] + 0.04 * span]


def sfx(n):
    return "" if n == 1 else str(n)


tickfont = dict(family=FONT, size=11, color="#222222")
tick_common = dict(ticks="outside", ticklen=6, tickwidth=1, tickcolor="black", tickfont=tickfont,
                   showticklabels=True)

fig = go.Figure()
layout = {}
annotations = []

for i in range(NV):
    for j in range(NV):
        n = i * NV + j + 1
        s = sfx(n)
        x0 = (LEFT + j * CPITCH) / W
        x1 = (LEFT + j * CPITCH + PW) / W
        y1 = 1 - (TOP + i * RPITCH) / H
        y0 = 1 - (TOP + i * RPITCH + PH) / H
        xa = dict(domain=[x0, x1], range=prange(j), anchor="y" + s, showline=True, mirror=True,
                  linecolor="black", linewidth=1, showgrid=False, zeroline=False, ticks="",
                  showticklabels=False, fixedrange=True)
        yr = [0, 1.5] if i == j else prange(i)
        ya = dict(domain=[y0, y1], range=yr, anchor="x" + s, showline=True, mirror=True,
                  linecolor="black", linewidth=1, showgrid=False, zeroline=False, ticks="",
                  showticklabels=False, fixedrange=True)
        if i == 0 and j in (1, 3, 5):
            xa.update(tick_common, side="top", tickvals=tick_vals[j], ticktext=tick_text[j], ticklabelstandoff=5)
        if i == NV - 1 and j in (0, 2, 4, 6):
            xa.update(tick_common, side="bottom", tickvals=tick_vals[j], ticktext=tick_text[j], ticklabelstandoff=7)
        if j == 0 and i in (1, 3, 5):
            ya.update(tick_common, side="left", tickvals=tick_vals[i], ticktext=tick_text[i], tickangle=-90,
                      ticklabelstandoff=3)
        if j == NV - 1 and i in (0, 2, 4):
            ya.update(tick_common, side="right", tickvals=tick_vals[i], ticktext=tick_text[i], tickangle=-90,
                      ticklabelstandoff=5)
        layout["xaxis" + s] = xa
        layout["yaxis" + s] = ya

        xs_name, ys_name = "x" + s, "y" + s
        r, c = i + 1, j + 1
        if i == j:
            br = hist_breaks[i]
            hh = hist_heights[i]
            cx, wd, hv = [], [], []
            for b in range(len(hh)):
                if hh[b] > 0:
                    cx.append((br[b] + br[b + 1]) / 2)
                    wd.append(br[b + 1] - br[b])
                    hv.append(hh[b])
            fig.add_trace(go.Bar(x=cx, y=hv, width=wd, base=0, xaxis=xs_name, yaxis=ys_name,
                                 marker=dict(color="#A3A3A3", line=dict(color="black", width=1)),
                                 hoverinfo="skip", showlegend=False))
            fig.add_trace(go.Scatter(x=dens_x[i], y=dens_y[i], mode="lines", xaxis=xs_name, yaxis=ys_name,
                                     line=dict(color="black", width=1, shape="spline", smoothing=0.8),
                                     hoverinfo="skip", showlegend=False))
            annotations.append(dict(text=variables[i], x=0.5, y=0.845, xref=xs_name + " domain",
                                    yref=ys_name + " domain", showarrow=False,
                                    font=dict(family=FONT, size=14.5, color="black"),
                                    xanchor="center", yanchor="middle"))
        elif i > j:
            pts = lower[(r, c)]
            fig.add_trace(go.Scatter(x=[p[0] for p in pts], y=[p[1] for p in pts], mode="markers",
                                     xaxis=xs_name, yaxis=ys_name,
                                     marker=dict(color="black", size=5, line=dict(width=0)),
                                     hoverinfo="skip", showlegend=False))
            lx, ly = loess[(r, c)]
            fig.add_trace(go.Scatter(x=lx, y=ly, mode="lines", xaxis=xs_name, yaxis=ys_name,
                                     line=dict(color="#FF0000", width=1.1),
                                     hoverinfo="skip", showlegend=False))
        else:
            # invisible placeholder so that the (empty) upper panel and its axes are drawn
            xm = (var_min[j] + var_max[j]) / 2
            ym = (var_min[i] + var_max[i]) / 2
            fig.add_trace(go.Scatter(x=[xm], y=[ym], mode="markers", marker=dict(opacity=0, size=1),
                                     xaxis=xs_name, yaxis=ys_name, hoverinfo="skip", showlegend=False))
            annotations.append(dict(text="r\u00a0 = " + upper_r[(r, c)], x=0.5, y=0.60,
                                    xref=xs_name + " domain", yref=ys_name + " domain", showarrow=False,
                                    font=dict(family=FONT, size=12.5, color="black"),
                                    xanchor="center", yanchor="middle"))
            annotations.append(dict(text=upper_ci[(r, c)], x=0.5, y=0.31,
                                    xref=xs_name + " domain", yref=ys_name + " domain", showarrow=False,
                                    font=dict(family=FONT, size=12.5, color="black"),
                                    xanchor="center", yanchor="middle"))
            if (r, c) in upper_stars:
                annotations.append(dict(text=upper_stars[(r, c)], x=0.80, y=0.79,
                                        xref=xs_name + " domain", yref=ys_name + " domain", showarrow=False,
                                        font=dict(family=FONT, size=11.5, color="#DF536B"),
                                        xanchor="center", yanchor="middle"))

# rug ticks on the diagonal from the values of each variable used in the scatter panels
for k in range(NV):
    vals = set()
    for (r, c), pts in lower.items():
        if c == k + 1:
            vals.update(p[0] for p in pts)
        if r == k + 1:
            vals.update(p[1] for p in pts)
    vals = sorted(vals)
    n = k * NV + k + 1
    s = sfx(n)
    fig.add_trace(go.Scatter(x=vals, y=[0.03] * len(vals), mode="markers", xaxis="x" + s, yaxis="y" + s,
                             marker=dict(symbol="line-ns", size=3.5, color="black",
                                         line=dict(color="#333333", width=0.6)),
                             hoverinfo="skip", showlegend=False))

# extra right-hand axis for the education row on the diagonal panel
nlast = NV * NV
layout["yaxis" + str(nlast + 1)] = dict(domain=layout["yaxis" + str(nlast)]["domain"], range=prange(NV - 1),
                                        anchor="x" + str(nlast), overlaying="y" + str(nlast), side="right",
                                        showline=False, showgrid=False, zeroline=False, fixedrange=True,
                                        tickvals=tick_vals[NV - 1], ticktext=tick_text[NV - 1], tickangle=-90,
                                        ticklabelstandoff=5, **tick_common)
fig.add_trace(go.Scatter(x=[4], y=[4], mode="markers", marker=dict(opacity=0, size=1), xaxis="x" + str(nlast),
                         yaxis="y" + str(nlast + 1), hoverinfo="skip", showlegend=False))

fig.update_layout(**layout)
fig.update_layout(width=W, height=H, margin=dict(l=0, r=0, t=0, b=0), paper_bgcolor="white",
                  plot_bgcolor="white", annotations=annotations, showlegend=False, barmode="overlay",
                  font=dict(family=FONT))

fig.write_html("out.html")
